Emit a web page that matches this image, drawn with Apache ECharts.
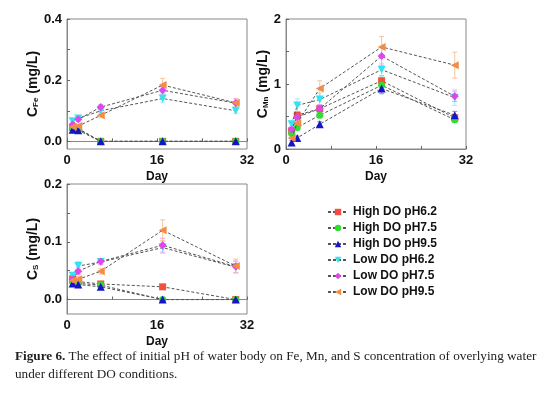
<!DOCTYPE html>
<html><head><meta charset="utf-8">
<script src="https://cdn.jsdelivr.net/npm/echarts@6/dist/echarts.min.js"></script>
<style>html,body{margin:0;padding:0;background:#fff}#c{width:554px;height:395px}</style>
</head><body><div id="c"></div>
<script>
const days = [1, 2, 6, 17, 30];
const seriesNames = ['High DO pH6.2', 'High DO pH7.5', 'High DO pH9.5', 'Low DO pH6.2', 'Low DO pH7.5', 'Low DO pH9.5'];
const colors = ['#f2503c', '#30dd30', '#1414c8', '#33e3f3', '#e046f0', '#f28c46'];
const errColors = ['#f7a096', '#96ec96', '#8c8ce0', '#9cf0f8', '#f0a0f8', '#f8c49c'];

// Fe concentration (mg/L)
const feValues = [
  [0.045, 0.042, 0, 0, 0],
  [0.042, 0.040, 0, 0, 0],
  [0.038, 0.036, 0, 0, 0],
  [0.066, 0.075, 0.100, 0.140, 0.100],
  [0.055, 0.072, 0.112, 0.167, 0.125],
  [0.048, 0.050, 0.085, 0.184, 0.126]
];
const feErr = [
  [0.005, 0.005, 0, 0, 0],
  [0.005, 0.005, 0, 0, 0],
  [0.004, 0.004, 0, 0, 0],
  [0.006, 0.006, 0.008, 0.012, 0.008],
  [0.006, 0.006, 0.008, 0.012, 0.015],
  [0.006, 0.006, 0.008, 0.022, 0.012]
];
// Mn concentration (mg/L)
const mnValues = [
  [0.28, 0.52, 0.62, 1.05, 0.48],
  [0.24, 0.33, 0.52, 0.98, 0.45],
  [0.10, 0.17, 0.38, 0.93, 0.52],
  [0.38, 0.67, 0.76, 1.22, 0.79],
  [0.30, 0.49, 0.62, 1.43, 0.81],
  [0.17, 0.40, 0.93, 1.57, 1.29]
];
const mnErr = [
  [0.04, 0.06, 0.06, 0.08, 0.05],
  [0.03, 0.04, 0.04, 0.08, 0.04],
  [0.03, 0.03, 0.04, 0.08, 0.06],
  [0.05, 0.10, 0.10, 0.10, 0.12],
  [0.04, 0.06, 0.06, 0.14, 0.08],
  [0.03, 0.05, 0.12, 0.16, 0.20]
];
// S concentration (mg/L)
const sValues = [
  [0.036, 0.031, 0.027, 0.022, 0.000],
  [0.030, 0.028, 0.025, 0.000, 0.000],
  [0.028, 0.026, 0.022, 0.000, 0.000],
  [0.041, 0.058, 0.065, 0.090, 0.056],
  [0.035, 0.049, 0.066, 0.094, 0.057],
  [0.033, 0.035, 0.049, 0.120, 0.058]
];
const sErr = [
  [0.004, 0.004, 0.004, 0.004, 0],
  [0.004, 0.004, 0.004, 0, 0],
  [0.004, 0.004, 0.004, 0, 0],
  [0.006, 0.008, 0.005, 0.010, 0.010],
  [0.005, 0.006, 0.005, 0.012, 0.010],
  [0.005, 0.005, 0.005, 0.018, 0.012]
];
const xTicks = [0, 16, 32];
const feTicks = [0, 0.2, 0.4];
const mnTicks = [0, 1, 2];
const sTicks = [0, 0.1, 0.2];

const symbols = ['rect', 'circle', 'triangle', 'triangle', 'diamond', 'triangle'];
const rotates = [0, 0, 0, 180, 0, 90];
const sizes = [7, 7, 8, 8, 8, 8];

const FONT = 'Liberation Sans';
const labelStyle = {fontFamily: FONT, fontWeight: 'bold', fontSize: 13, color: '#111'};

function xAxis(gi) {
  return {
    gridIndex: gi, type: 'value', min: 0, max: 32, interval: 16,
    name: 'Day', nameLocation: 'middle', nameGap: 22,
    nameTextStyle: {fontFamily: FONT, fontWeight: 'bold', fontSize: 12, color: '#111'},
    axisLine: {show: true, lineStyle: {color: '#888', width: 1}},
    axisTick: {show: true, inside: true, length: 3, lineStyle: {color: '#666'}},
    minorTick: {show: true, splitNumber: 2, length: 3, lineStyle: {color: '#666'}},
    axisLabel: Object.assign({margin: 5, customValues: xTicks, formatter: v => String(v)}, labelStyle),
    splitLine: {show: false}
  };
}
function yAxis(gi, min, max, ticks, minorVals, sub, gap, fmt) {
  return {
    gridIndex: gi, type: 'value', min: min, max: max,
    name: '{b|C}{s|' + sub + '}{b| (mg/L)}', nameLocation: 'middle', nameGap: gap,
    nameTextStyle: {rich: {
      b: {fontFamily: FONT, fontWeight: 'bold', fontSize: 14, color: '#111', verticalAlign: 'bottom', lineHeight: 16},
      s: {fontFamily: FONT, fontWeight: 'bold', fontSize: 8, color: '#111', verticalAlign: 'bottom', lineHeight: 12, padding: [6, 0, 0, 0]}
    }},
    axisLine: {show: true, lineStyle: {color: '#888', width: 1}},
    axisTick: {show: true, inside: true, length: 3, customValues: minorVals, lineStyle: {color: '#666'}},
    axisLabel: Object.assign({margin: 5, customValues: ticks, formatter: fmt}, labelStyle),
    splitLine: {show: false}
  };
}

const grids = [
  {left: 67, top: 19, width: 180, height: 130},
  {left: 286, top: 19, width: 180, height: 130},
  {left: 67, top: 184, width: 180, height: 130}
].map(g => Object.assign(g, {show: true, borderColor: '#888', borderWidth: 1, backgroundColor: 'transparent'}));

const panels = [feValues, mnValues, sValues];
const panelErr = [feErr, mnErr, sErr];
const series = [];
panels.forEach((vals, gi) => {
  vals.forEach((arr, si) => {
    const errs = panelErr[gi][si];
    series.push({
      type: 'custom', xAxisIndex: gi, yAxisIndex: gi, silent: true, z: 1,
      data: days.map((d, i) => [d, arr[i], errs[i]]),
      renderItem: function (params, api) {
        const x = api.value(0), y = api.value(1), e = api.value(2);
        if (!e) return null;
        const p1 = api.coord([x, y + e]), p2 = api.coord([x, y - e]);
        const w = 2.5;
        const st = {stroke: errColors[si], lineWidth: 1};
        return {type: 'group', children: [
          {type: 'line', shape: {x1: p1[0], y1: p1[1], x2: p2[0], y2: p2[1]}, style: st},
          {type: 'line', shape: {x1: p1[0] - w, y1: p1[1], x2: p1[0] + w, y2: p1[1]}, style: st},
          {type: 'line', shape: {x1: p2[0] - w, y1: p2[1], x2: p2[0] + w, y2: p2[1]}, style: st}
        ]};
      }
    });
    series.push({
      type: 'line', name: seriesNames[si], xAxisIndex: gi, yAxisIndex: gi, z: 2 + si,
      data: days.map((d, i) => [d, arr[i]]),
      symbol: symbols[si], symbolRotate: rotates[si], symbolSize: sizes[si],
      showAllSymbol: true,
      itemStyle: {color: colors[si], opacity: 1},
      lineStyle: {color: '#555', width: 1, type: [3, 2]},
      emphasis: {disabled: true}, animation: false
    });
  });
});

const chart = echarts.init(document.getElementById('c'), null, {renderer: 'canvas'});
chart.setOption({
  animation: false,
  backgroundColor: '#fff',
  grid: grids,
  xAxis: [xAxis(0), xAxis(1), xAxis(2)],
  yAxis: [
    yAxis(0, -0.025, 0.4, feTicks, [0, 0.1, 0.2, 0.3, 0.4], 'Fe', 27, v => v.toFixed(1)),
    yAxis(1, 0, 2, mnTicks, [0, 0.5, 1, 1.5, 2], 'Mn', 13, v => String(v)),
    yAxis(2, -0.025, 0.2, sTicks, [0, 0.05, 0.1, 0.15, 0.2], 'S', 27, v => v.toFixed(1))
  ],
  legend: {
    data: seriesNames, orient: 'vertical', left: 322, top: 201,
    itemWidth: 20, itemHeight: 8, itemGap: 4,
    textStyle: {fontFamily: FONT, fontWeight: 'bold', fontSize: 12, color: '#111'},
    selectedMode: false
  },
  graphic: [
    {type: 'text', left: 15, top: 350, style: {
      text: '{b|Figure 6.} The effect of initial pH of water body on Fe, Mn, and S concentration of overlying water',
      font: '13.2px "Liberation Serif"', fill: '#222',
      rich: {b: {fontFamily: 'Liberation Serif', fontWeight: 'bold', fontSize: 13.2, fill: '#222'}}
    }},
    {type: 'text', left: 15, top: 368, style: {
      text: 'under different DO conditions.', font: '13.2px "Liberation Serif"', fill: '#222'
    }}
  ],
  series: series
});
</script>
</body></html>
